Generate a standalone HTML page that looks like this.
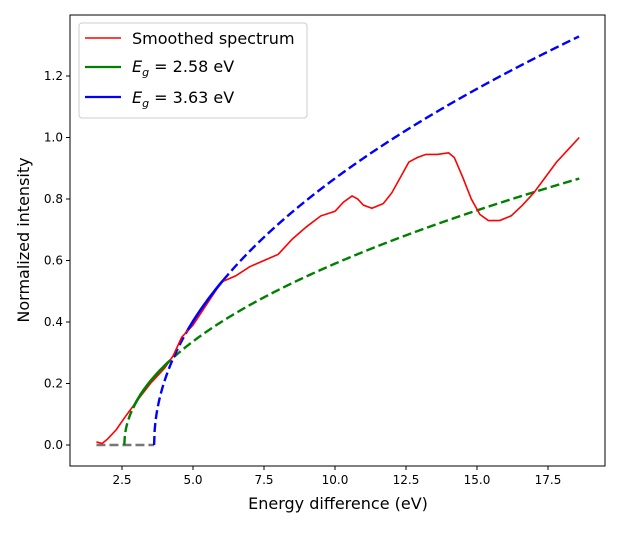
<!DOCTYPE html>
<html><head><meta charset="utf-8"><style>
body{margin:0;background:#fff;font-family:"Liberation Sans",sans-serif}
svg text{font-family:"DejaVu Sans","Liberation Sans",sans-serif}
</style></head><body>
<svg id="chart" width="620" height="528" xmlns="http://www.w3.org/2000/svg">
<g id="plot"></g>
<g id="axes"></g>
<text x="338" y="509" font-size="16" text-anchor="middle">Energy difference (eV)</text>
<text transform="translate(29,240) rotate(-90)" font-size="16" text-anchor="middle">Normalized intensity</text>
<g>
<rect x="79" y="23" width="228" height="95" rx="3" fill="#fff" fill-opacity="0.8" stroke="#ccc"/>
<g><line x1="85" x2="121" y1="38" y2="38" stroke="red" stroke-width="1.6"/><text x="132" y="44" font-size="16">Smoothed spectrum</text></g>
<g><line x1="85" x2="121" y1="67" y2="67" stroke="green" stroke-width="2.2"/><text x="132" y="72" font-size="16"><tspan font-style="italic">E</tspan><tspan font-size="11" dy="4" font-style="italic">g</tspan><tspan dy="-4"> = 2.58 eV</tspan></text></g>
<g><line x1="85" x2="121" y1="97" y2="97" stroke="blue" stroke-width="2.2"/><text x="132" y="103" font-size="16"><tspan font-style="italic">E</tspan><tspan font-size="11" dy="4" font-style="italic">g</tspan><tspan dy="-4"> = 3.63 eV</tspan></text></g>
</g>
</svg>
<script>
const specE=[1.6,1.8,2.0,2.3,2.6,3.0,3.5,4.0,4.3,4.6,5.0,5.5,6.0,6.5,7.0,7.5,8.0,8.5,9.0,9.5,10.0,10.3,10.6,10.8,11.0,11.3,11.7,12.0,12.3,12.6,12.9,13.2,13.6,14.0,14.2,14.5,14.8,15.1,15.4,15.8,16.2,16.6,17.0,17.4,17.8,18.2,18.6];
const specY=[0.01,0.005,0.02,0.05,0.09,0.14,0.2,0.25,0.29,0.35,0.39,0.46,0.53,0.55,0.58,0.6,0.62,0.67,0.71,0.745,0.76,0.79,0.81,0.8,0.78,0.77,0.785,0.82,0.87,0.92,0.935,0.945,0.945,0.95,0.935,0.87,0.8,0.75,0.73,0.73,0.745,0.78,0.82,0.87,0.92,0.96,1.0];
const gaps=[2.58,3.63];
const amps=[0.2165,0.3435];
const fitRanges=[[2.89,4.2],[4.82,6.06]];
const colors=["green","blue"];
const xTicks=[2.5,5.0,7.5,10.0,12.5,15.0,17.5];
const yTicks=[0.0,0.2,0.4,0.6,0.8,1.0,1.2];
const EMAX=18.6;
const X0=70,X1=605,Y0=15,Y1=466;
const xs=e=>51+(e)*28.4, ys=v=>445-v*307.5;
const NS="http://www.w3.org/2000/svg";
const plot=document.getElementById('plot'),axes=document.getElementById('axes');
function mk(tag,a,p){const el=document.createElementNS(NS,tag);for(const k in a)el.setAttribute(k,a[k]);p.appendChild(el);return el;}
function pathFrom(pts){return pts.map((p,i)=>(i?'L':'M')+xs(p[0]).toFixed(2)+','+ys(p[1]).toFixed(2)).join('');}
let bl=mk('line',{x1:xs(specE[0]),x2:xs(gaps[1]),y1:ys(0),y2:ys(0),stroke:'#777','stroke-width':2.4,'stroke-dasharray':'9,4'},plot);


gaps.forEach((g,i)=>{
  const pts=[];for(let e=g;e<=EMAX+1e-9;e+=0.02)pts.push([e,amps[i]*Math.sqrt(e-g)]);
  let d=mk('path',{d:pathFrom(pts),fill:'none',stroke:colors[i],'stroke-width':2.4,'stroke-dasharray':'9,4'},plot);
  
  
});
let r=mk('path',{d:pathFrom(specE.map((e,i)=>[e,specY[i]])),fill:'none',stroke:'red','stroke-width':1.6},plot);


gaps.forEach((g,i)=>{
  const pts=[];for(let e=fitRanges[i][0];e<=fitRanges[i][1];e+=0.02)pts.push([e,amps[i]*Math.sqrt(e-g)]);
  let d=mk('path',{d:pathFrom(pts),fill:'none',stroke:colors[i],'stroke-width':2.6},plot);
  
  
});
let fr=mk('rect',{x:X0,y:Y0,width:X1-X0,height:Y1-Y0,fill:'none',stroke:'#000','stroke-width':1},axes);


xTicks.forEach(t=>{
  mk('line',{x1:xs(t),x2:xs(t),y1:Y1,y2:Y1+4,stroke:'#000'},axes);
  let tx=mk('text',{x:xs(t),y:Y1+18,'font-size':12,'text-anchor':'middle'},axes);tx.textContent=t.toFixed(1);
  
  
});
yTicks.forEach(t=>{
  mk('line',{x1:X0-4,x2:X0,y1:ys(t),y2:ys(t),stroke:'#000'},axes);
  let tx=mk('text',{x:X0-7,y:ys(t)+4,'font-size':12,'text-anchor':'end'},axes);tx.textContent=t.toFixed(1);
  
  
});
</script>
</body></html>
